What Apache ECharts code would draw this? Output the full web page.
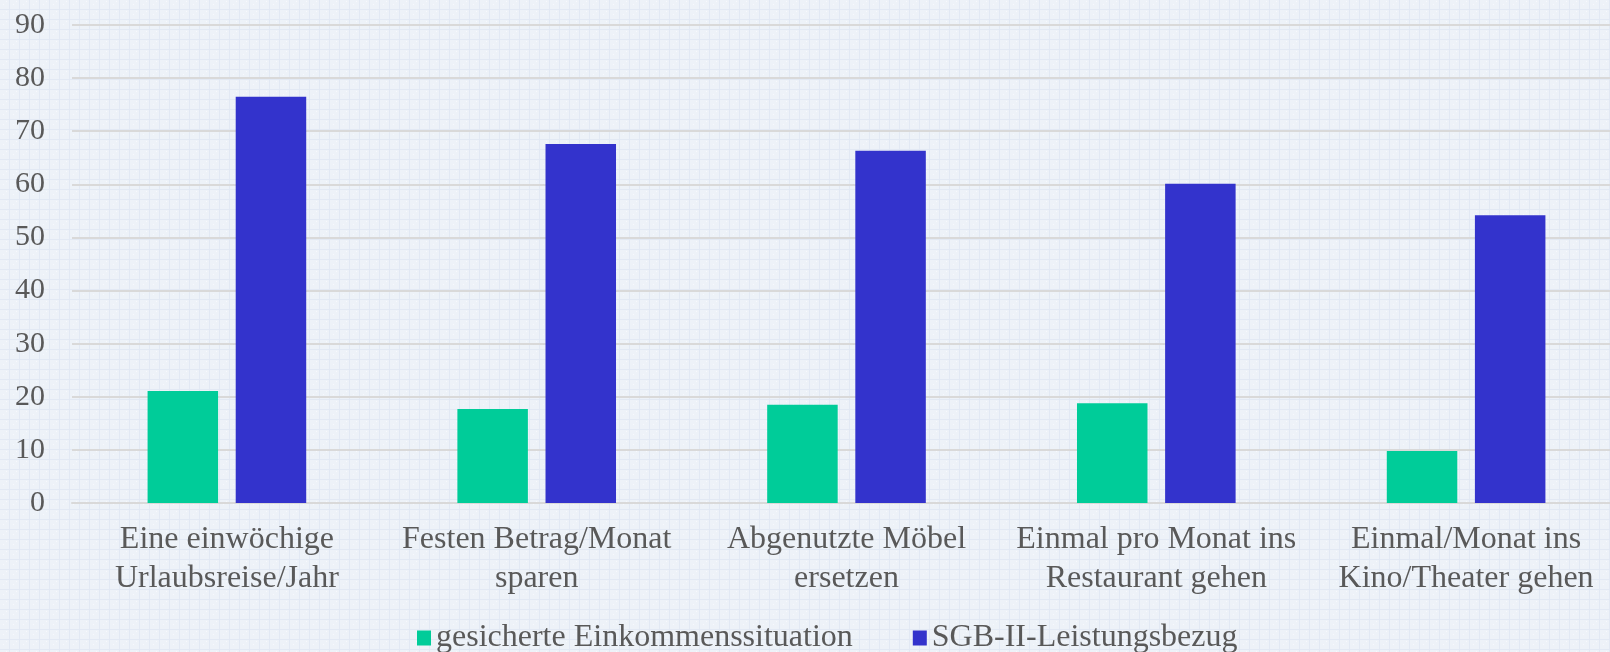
<!DOCTYPE html>
<html>
<head>
<meta charset="utf-8">
<script src="https://cdn.jsdelivr.net/npm/echarts@6/dist/echarts.min.js"></script>
<style>
html,body{margin:0;padding:0;background:#edf2f8;overflow:hidden;}
#chart{width:1621px;height:652px;}
</style>
</head>
<body>
<div id="chart"></div>
<script>
const categories = [
  "Eine einwöchige\nUrlaubsreise/Jahr",
  "Festen Betrag/Monat\nsparen",
  "Abgenutzte Möbel\nersetzen",
  "Einmal pro Monat ins\nRestaurant gehen",
  "Einmal/Monat ins\nKino/Theater gehen"
];
const seriesNames = ["gesicherte Einkommenssituation", "SGB-II-Leistungsbezug"];
const gesichert = [21.1, 17.7, 18.5, 18.8, 9.8];
const sgb = [76.5, 67.6, 66.3, 60.1, 54.2];
const yTicks = { min: 0, max: 90, interval: 10 };

// background grid pattern
const pc = document.createElement('canvas');
pc.width = 10; pc.height = 10;
const g = pc.getContext('2d');
g.fillStyle = '#edf2f8'; g.fillRect(0, 0, 10, 10);
g.fillStyle = '#e2e9f4';
g.fillRect(9, 0, 1, 10);
g.fillRect(0, 9, 10, 1);
g.fillStyle = '#f8fafd';
g.fillRect(3, 4, 1, 1);
g.fillRect(6, 1, 1, 1);

const chart = echarts.init(document.getElementById('chart'));
const font = "'Liberation Serif', 'Times New Roman', serif";
chart.setOption({
  backgroundColor: { image: pc, repeat: 'repeat' },
  animation: false,
  textStyle: { fontFamily: font },
  grid: { left: 72, right: 0, top: 25, bottom: 149, containLabel: false },
  legend: {
    left: 412, top: 617,
    itemWidth: 14, itemHeight: 15, itemGap: 60,
    icon: 'rect',
    textStyle: { fontFamily: font, fontSize: 32, color: '#595959' },
    data: seriesNames
  },
  xAxis: {
    type: 'category',
    data: categories,
    axisLine: { show: true, lineStyle: { color: '#d9d9d9', width: 2 } },
    axisTick: { show: false },
    axisLabel: { fontFamily: font, fontSize: 32, color: '#595959', lineHeight: 39, margin: 17, interval: 0 }
  },
  yAxis: {
    type: 'value',
    min: yTicks.min, max: yTicks.max, interval: yTicks.interval,
    axisLine: { show: false },
    axisTick: { show: false },
    axisLabel: { fontFamily: font, fontSize: 30, color: '#595959', margin: 27 },
    splitLine: { lineStyle: { color: '#d9d9d9', width: 2 } }
  },
  series: [
    { name: seriesNames[0], type: 'bar', data: gesichert, itemStyle: { color: '#00cc99' }, barWidth: 70.5, barGap: '25%' },
    { name: seriesNames[1], type: 'bar', data: sgb, itemStyle: { color: '#3333cc' }, barWidth: 70.5, barGap: '25%' }
  ]
});
</script>
</body>
</html>
